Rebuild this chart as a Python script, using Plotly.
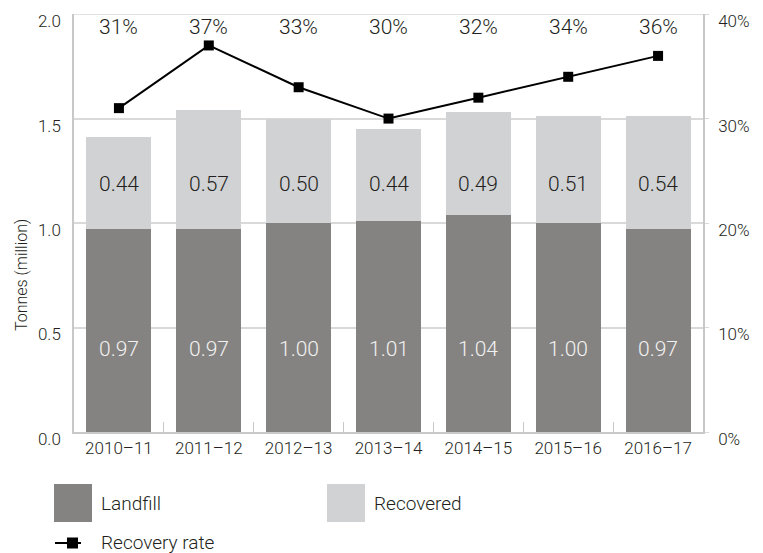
import plotly.graph_objects as go

years = ["2010–11", "2011–12", "2012–13", "2013–14", "2014–15", "2015–16", "2016–17"]
landfill = [0.97, 0.97, 1.00, 1.01, 1.04, 1.00, 0.97]
recovered = [0.44, 0.57, 0.50, 0.44, 0.49, 0.51, 0.54]
recovery_rate = [31, 37, 33, 30, 32, 34, 36]
y_ticks = [0.0, 0.5, 1.0, 1.5, 2.0]
y2_ticks = [0, 10, 20, 30, 40]

FONT = "Roboto"
WT = 300
TXT = "#231f20"
C_LAND = "#858381"
C_REC = "#d1d2d4"
GRID = "#d9d9d9"
AX = "#c8c8c8"

W, H = 763, 553
L, R, T, B = 74, 60, 14, 121
PW, PH = W - L - R, H - T - B


def px(x):
    return (x - L) / PW


def py(y):
    return (H - B - y) / PH


def f(size, color=TXT):
    return dict(family=FONT, size=size, color=color, weight=WT)


fig = go.Figure()
fig.add_trace(go.Bar(x=years, y=landfill, name="Landfill", marker_color=C_LAND,
                     marker_line_width=0, showlegend=False))
fig.add_trace(go.Bar(x=years, y=recovered, name="Recovered", marker_color=C_REC,
                     marker_line_width=0, showlegend=False))
fig.add_trace(go.Scatter(x=years, y=recovery_rate, name="Recovery rate", yaxis="y2",
                         mode="lines+markers", line=dict(color="black", width=2),
                         marker=dict(symbol="square", size=10, color="black"),
                         showlegend=False))

ann = []
for yr, lf, rc, rr in zip(years, landfill, recovered, recovery_rate):
    ann.append(dict(x=yr, y=0.397, xref="x", yref="y", text=f"{lf:.2f}", showarrow=False,
                    font=f(21, "#f2f2f2")))
    ann.append(dict(x=yr, y=1.187, xref="x", yref="y", text=f"{rc:.2f}", showarrow=False,
                    font=f(21)))
    ann.append(dict(x=yr, y=1.94, xref="x", yref="y", text=f"{rr}%", showarrow=False,
                    font=f(21)))

# y-axis title
ann.append(dict(x=px(21), y=py(275), xref="paper", yref="paper", text="Tonnes (million)",
                textangle=-90, showarrow=False, xanchor="center", yanchor="middle",
                font=f(16)))

shapes = []
# top gridline (plotly drops gridlines sitting on the plot edge)
shapes.append(dict(type="line", xref="paper", yref="y", x0=0, x1=1, y0=2.0, y1=2.0,
                   line=dict(color=GRID, width=1.5), layer="below"))
# custom legend
shapes.append(dict(type="rect", xref="paper", yref="paper", x0=px(54), x1=px(92),
                   y0=py(522), y1=py(484), fillcolor=C_LAND, line_width=0))
shapes.append(dict(type="rect", xref="paper", yref="paper", x0=px(327), x1=px(365),
                   y0=py(522), y1=py(484), fillcolor=C_REC, line_width=0))
shapes.append(dict(type="line", xref="paper", yref="paper", x0=px(55), x1=px(81),
                   y0=py(543), y1=py(543), line=dict(color="black", width=2)))
shapes.append(dict(type="rect", xref="paper", yref="paper", x0=px(67), x1=px(78),
                   y0=py(548.5), y1=py(537.5), fillcolor="black", line_width=0))
for xt, yt, t in [(100, 503, "Landfill"), (373, 503, "Recovered"), (100, 542, "Recovery rate")]:
    ann.append(dict(x=px(xt), y=py(yt), xref="paper", yref="paper", text=t, showarrow=False,
                    xanchor="left", yanchor="middle", borderpad=0, font=f(19)))

fig.update_layout(
    width=W, height=H,
    margin=dict(l=L, r=R, t=T, b=B),
    barmode="stack", bargap=0.277,
    plot_bgcolor="white", paper_bgcolor="white",
    font=dict(family=FONT, color=TXT, weight=WT),
    xaxis=dict(type="category", showline=True, linecolor=AX, linewidth=1.5,
               ticks="inside", tickson="boundaries", ticklen=10, tickcolor=AX,
               tickfont=f(17), showgrid=False, fixedrange=True),
    yaxis=dict(range=[0, 2.0005], tickmode="array", tickvals=y_ticks,
               ticktext=[f"{v:.1f}" for v in y_ticks], showgrid=True, gridcolor=GRID,
               gridwidth=1.5, showline=True, linecolor=AX, linewidth=1.5, zeroline=False,
               ticks="", tickfont=f(17), ticklabelshift=7, ticklabelstandoff=8),
    yaxis2=dict(range=[0, 40.01], tickmode="array", tickvals=y2_ticks,
                ticktext=[f"{v}%" for v in y2_ticks], overlaying="y", side="right",
                showgrid=False, showline=True, linecolor=AX, linewidth=1.5, zeroline=False,
                ticks="outside", ticklen=4, tickcolor=GRID,
                tickfont=f(17), ticklabelshift=7, ticklabelstandoff=6),
    annotations=ann, shapes=shapes,
)

fig.write_html("out.html", config={"displayModeBar": False},
               post_script="document.body.style.margin='0';document.body.style.overflow='hidden';")
